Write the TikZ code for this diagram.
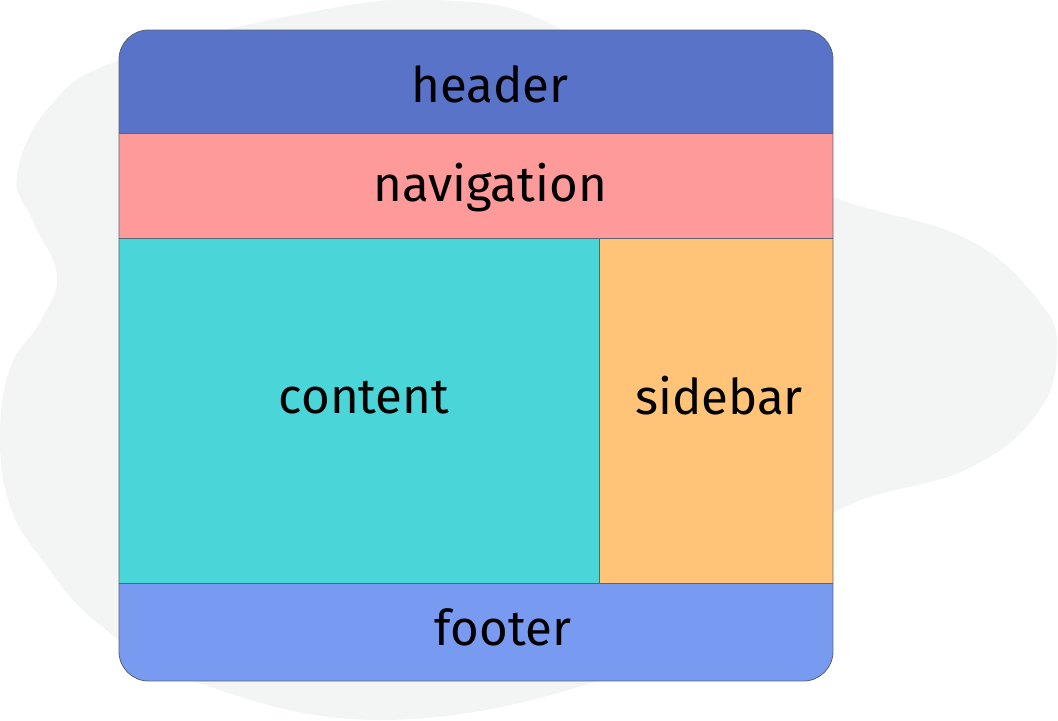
\documentclass[tikz,border=0pt]{standalone}
\usepackage{fontspec}
\setmainfont{Fira Sans}
\usepackage{xcolor}
\usetikzlibrary{positioning}
\definecolor{blobgray}{HTML}{F3F5F5}
\definecolor{headerblue}{HTML}{5873C7}
\definecolor{navpink}{HTML}{FF9A9A}
\definecolor{contentcyan}{HTML}{4AD5D9}
\definecolor{sidebarorange}{HTML}{FFC477}
\definecolor{footerblue}{HTML}{789AF0}
\definecolor{edgegray}{HTML}{5A6472}

\begin{document}
\begin{tikzpicture}[x=0.025cm,y=-0.025cm,
    edge/.style={draw=edgegray, line width=0.6pt},
    boxtext/.style={anchor=base, text=black, inner sep=0pt, font=\fontsize{35}{42}\selectfont}]
\useasboundingbox (0,0) rectangle (1058,721);

% Background blob
\fill[blobgray] plot[smooth cycle, tension=0.7] coordinates {
    (440,0) (563,30) (710,140) (833,197) (965,238) (1038,300) (1057,350)
    (1036,415) (965,470) (833,513) (720,610) (594,682) (380,720) (196,682)
    (100,625) (43,561) (10,506) (0,437) (10,368) (40,322) (57,276)
    (33,221) (17,175) (50,106) (120,60) (300,14)};

% Layout areas
\begin{scope}
\clip[rounded corners=21pt] (119,30) rectangle (833,681);
\fill[headerblue] (119,30) rectangle (833,133);
\fill[navpink] (119,133) rectangle (833,238);
\fill[contentcyan] (119,238) rectangle (599,583);
\fill[sidebarorange] (599,238) rectangle (833,583);
\fill[footerblue] (119,583) rectangle (833,681);
\end{scope}

% Borders
\draw[edge] (119,133) -- (833,133);
\draw[edge] (119,238) -- (833,238);
\draw[edge] (119,583) -- (833,583);
\draw[edge] (599,238) -- (599,583);
\draw[edge, rounded corners=21pt] (119,30) rectangle (833,681);

% Labels
\node[boxtext] (header) at (490,103) {header};
\node[boxtext] (navigation) at (490,202) {navigation};
\node[boxtext] (content) at (364,413) {content};
\node[boxtext] (sidebar) at (719,414) {sidebar};
\node[boxtext] (footer) at (503,645) {footer};
\end{tikzpicture}
\end{document}
